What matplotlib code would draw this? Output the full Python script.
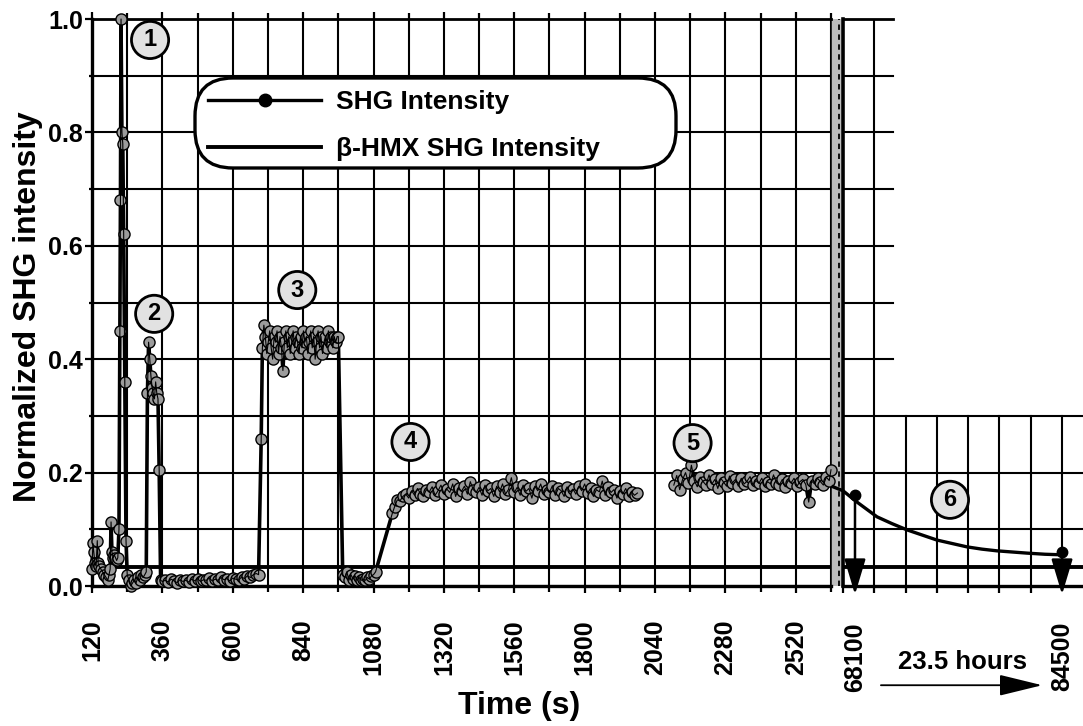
import numpy as np
import matplotlib
matplotlib.use("Agg")
import matplotlib.pyplot as plt
from matplotlib.patches import FancyBboxPatch, Polygon
from matplotlib.lines import Line2D
from matplotlib.ticker import FixedLocator, MultipleLocator

plt.rcParams['font.family'] = ['Liberation Sans', 'DejaVu Sans']
plt.rcParams['font.weight'] = 'bold'

# ---------------- data ----------------
t_early = [120, 123, 126, 130, 134, 138, 141, 144, 150, 156, 162, 168, 174, 178, 182, 185, 188, 192, 196, 200, 204, 208]
y_early = [0.030, 0.075, 0.060, 0.040, 0.035, 0.080, 0.040, 0.035, 0.030, 0.025, 0.020, 0.015, 0.010, 0.020, 0.030, 0.113, 0.060, 0.050, 0.055, 0.050, 0.045, 0.050]

t_peak1 = [212, 215, 217, 219, 222, 225, 228, 232, 236, 240]
y_peak1 = [0.10, 0.45, 0.68, 1.00, 0.80, 0.78, 0.62, 0.36, 0.08, 0.02]

t_low1 = [246, 252, 258, 264, 270, 276, 282, 288, 294, 300, 305]
y_low1 = [0.010, 0.000, 0.005, 0.010, 0.005, 0.015, 0.010, 0.020, 0.015, 0.020, 0.025]

t_peak2 = [309, 313, 317, 321, 325, 329, 333, 337, 341, 345, 349, 354]
y_peak2 = [0.34, 0.43, 0.40, 0.37, 0.35, 0.34, 0.33, 0.36, 0.34, 0.33, 0.205, 0.010]

t_flat = [360, 370, 380, 390, 400, 410, 420, 430, 440, 450,
          460, 470, 480, 490, 500, 510, 520, 530, 540, 550,
          560, 570, 580, 590, 600, 610, 620, 630, 640, 650,
          660, 670, 680]
y_flat = [0.008, 0.010, 0.007, 0.012, 0.009, 0.006, 0.011, 0.008, 0.010, 0.007,
          0.012, 0.009, 0.013, 0.008, 0.011, 0.010, 0.014, 0.009, 0.012, 0.010,
          0.015, 0.011, 0.013, 0.009, 0.014, 0.012, 0.010, 0.016, 0.013, 0.018,
          0.015, 0.020, 0.022]

t_peak3 = [688, 697,
           701, 706, 711, 716, 721, 726, 731, 736, 741, 746,
           751, 756, 761, 766, 771, 776, 781, 786, 791, 796,
           801, 806, 811, 816, 821, 826, 831, 836, 841, 846,
           851, 856, 861, 866, 871, 876, 881, 886, 891, 896,
           901, 906, 911, 916, 921, 926, 931, 936, 941, 946,
           951, 956, 960, 975]
y_peak3 = [0.02, 0.26,
           0.42, 0.46, 0.44, 0.41, 0.43, 0.45, 0.42, 0.40, 0.44, 0.43,
           0.45, 0.41, 0.44, 0.42, 0.38, 0.43, 0.45, 0.42, 0.44, 0.41,
           0.43, 0.45, 0.42, 0.44, 0.43, 0.41, 0.44, 0.42, 0.45, 0.43,
           0.44, 0.41, 0.43, 0.45, 0.42, 0.44, 0.40, 0.43, 0.45, 0.42,
           0.44, 0.41, 0.43, 0.44, 0.42, 0.45, 0.43, 0.44, 0.42, 0.44,
           0.43, 0.44, 0.44, 0.02]

t_low2 = [982, 989, 996, 1003, 1010, 1017, 1024, 1031, 1038, 1045, 1052, 1059, 1066, 1073, 1080, 1087]
y_low2 = [0.015, 0.025, 0.010, 0.020, 0.012, 0.018, 0.010, 0.015, 0.010, 0.012, 0.010, 0.015, 0.012, 0.018, 0.020, 0.025]

t_rise = [1144, 1152, 1161]
y_rise = [0.128, 0.140, 0.152]

t_plat4 = [1170, 1180, 1190, 1200, 1210, 1220, 1230, 1240, 1250, 1260,
           1270, 1280, 1290, 1300, 1310, 1320, 1330, 1340, 1350, 1360,
           1370, 1380, 1390, 1400, 1410, 1420, 1430, 1440, 1450, 1460,
           1470, 1480, 1490, 1500, 1510, 1520, 1530, 1540, 1550, 1560,
           1570, 1580, 1590, 1600, 1610, 1620, 1630, 1640, 1650, 1660,
           1670, 1680, 1690, 1700, 1710, 1720, 1730, 1740, 1750, 1760,
           1770, 1780, 1790, 1800, 1810, 1820, 1830, 1840, 1850, 1860,
           1870, 1880, 1890, 1900, 1910, 1920, 1930, 1940, 1950, 1960,
           1970, 1980]
y_plat4 = [0.150, 0.158, 0.162, 0.155, 0.168, 0.160, 0.172, 0.163, 0.158, 0.170,
           0.166, 0.175, 0.160, 0.168, 0.178, 0.163, 0.171, 0.165, 0.180, 0.158,
           0.172, 0.167, 0.176, 0.162, 0.184, 0.170, 0.165, 0.174, 0.160, 0.178,
           0.168, 0.172, 0.158, 0.176, 0.166, 0.180, 0.162, 0.170, 0.191, 0.165,
           0.174, 0.160, 0.178, 0.167, 0.172, 0.155, 0.176, 0.168, 0.180, 0.163,
           0.170, 0.165, 0.177, 0.160, 0.172, 0.168, 0.158, 0.175, 0.166, 0.171,
           0.162, 0.176, 0.168, 0.180, 0.164, 0.172, 0.158, 0.170, 0.166, 0.185,
           0.160, 0.174, 0.165, 0.170, 0.155, 0.168, 0.162, 0.172, 0.158, 0.166,
           0.160, 0.164]

t_plat5 = [2104, 2114, 2124, 2134, 2144, 2154, 2164, 2174, 2184, 2194,
           2204, 2214, 2224, 2234, 2244, 2254, 2264, 2274, 2284, 2294,
           2304, 2314, 2324, 2334, 2344, 2354, 2364, 2374, 2384, 2394,
           2404, 2414, 2424, 2434, 2444, 2454, 2464, 2474, 2484, 2494,
           2504, 2514, 2524, 2534, 2544, 2554, 2564, 2574, 2584, 2594,
           2604, 2614, 2624, 2634, 2640]
y_plat5 = [0.178, 0.195, 0.170, 0.188, 0.200, 0.182, 0.213, 0.186, 0.175, 0.192,
           0.184, 0.178, 0.196, 0.180, 0.188, 0.172, 0.190, 0.183, 0.176, 0.194,
           0.182, 0.188, 0.176, 0.190, 0.180, 0.185, 0.193, 0.178, 0.186, 0.181,
           0.190, 0.176, 0.184, 0.180, 0.196, 0.182, 0.178, 0.188, 0.175, 0.186,
           0.182, 0.190, 0.176, 0.184, 0.188, 0.179, 0.148, 0.185, 0.180, 0.190,
           0.184, 0.178, 0.192, 0.186, 0.205]

# long-time decay (after 23.5 h)
t_decay = [66358, 67150, 68259, 69843, 71031, 72219, 73407, 74595, 75783, 76971, 78159, 79347, 80535, 81723, 83148, 84500]
y_decay = [0.175, 0.168, 0.148, 0.122, 0.110, 0.099, 0.090, 0.081, 0.075, 0.069, 0.065, 0.062, 0.060, 0.058, 0.056, 0.055]
t_mark = [68100, 84500]
y_mark = [0.160, 0.060]

hmx_level = 0.033  # beta-HMX SHG intensity

x_ticks_left = [120, 360, 600, 840, 1080, 1320, 1560, 1800, 2040, 2280, 2520]
x_ticks_right = [68100, 84500]
y_ticks = [0.0, 0.2, 0.4, 0.6, 0.8, 1.0]
y_tick_labels = ['0.0', '0.2', '0.4', '0.6', '0.8', '1.0']

circle_labels = ['1', '2', '3', '4', '5']
circle_t = [318, 332, 820, 1206, 2168]
circle_y = [0.963, 0.480, 0.522, 0.254, 0.252]
circle6_t, circle6_y = 75624, 0.152

# ---------------- figure ----------------
W, H = 1083, 726
fig = plt.figure(figsize=(W / 100, H / 100), dpi=100)
ax1 = fig.add_axes([92 / W, 140 / H, 739 / W, 567 / H])
ax2 = fig.add_axes([843 / W, 140 / H, 240 / W, 567 / H])

GRID_LW = 1.5
TICK_FS = 18

# ---- left panel ----
ax1.set_xlim(120, 2640)
ax1.set_ylim(0, 1)
ax1.xaxis.set_major_locator(FixedLocator(x_ticks_left))
ax1.xaxis.set_minor_locator(MultipleLocator(120))
ax1.set_xticklabels([str(v) for v in x_ticks_left], rotation=90)
ax1.set_yticks(y_ticks)
ax1.set_yticklabels(y_tick_labels)
ax1.yaxis.set_minor_locator(MultipleLocator(0.1))
ax1.grid(True, which='both', color='black', lw=GRID_LW)
ax1.set_axisbelow(True)
ax1.tick_params(axis='x', which='major', length=5, width=1.6, pad=19, labelsize=TICK_FS, top=True)
ax1.tick_params(axis='x', which='minor', length=4, width=1.6, top=True)
ax1.tick_params(axis='y', which='major', length=5, width=1.6, pad=1.5, labelsize=TICK_FS)
ax1.tick_params(axis='y', which='minor', length=2, width=1.6)
ax1.spines['left'].set_linewidth(2.4)
ax1.spines['bottom'].set_linewidth(2.4)
ax1.spines['top'].set_linewidth(2.0)
ax1.spines['right'].set_linewidth(1.2)

seg1_t = t_early + t_peak1 + t_low1 + t_peak2 + t_flat + t_peak3 + t_low2 + t_rise + t_plat4
seg1_y = y_early + y_peak1 + y_low1 + y_peak2 + y_flat + y_peak3 + y_low2 + y_rise + y_plat4

ax1.axhline(hmx_level, color='black', lw=2.8, zorder=2.5)
for tt, yy in [(seg1_t, seg1_y), (t_plat5, y_plat5)]:
    ax1.plot(tt, yy, color='black', lw=2.6, zorder=3, clip_on=False)
    ax1.plot(tt, yy, ls='none', marker='o', ms=8, mfc='#9c9c9c', mec='black', mew=1.0,
             zorder=3.5, clip_on=False)
    ax1.plot(tt, yy, color='black', lw=0.8, zorder=3.6, clip_on=False)

for lab, ct, cy in zip(circle_labels, circle_t, circle_y):
    ax1.text(ct, cy, lab, ha='center', va='center', fontsize=17, fontweight='bold', zorder=7,
             bbox=dict(boxstyle='circle,pad=0.3', fc='#e2e2e2', ec='black', lw=2.0))

ax1.set_ylabel('Normalized SHG intensity', fontsize=23, fontweight='bold')
ax1.yaxis.set_label_coords(-0.066, 0.492)
ax1.set_xlabel('Time (s)', fontsize=23, fontweight='bold')
ax1.xaxis.set_label_coords(0.578, -0.185)

# legend with rounded frame
frame = FancyBboxPatch((1.95, 5.58), 4.81, 0.90, boxstyle='round,pad=0,rounding_size=0.38',
                       transform=fig.dpi_scale_trans, fc='white', ec='black', lw=2.4, zorder=5.5)
ax1.add_artist(frame)
h_shg = Line2D([], [], color='black', lw=2.4, marker='o', ms=9, mfc='black', mec='black')
h_hmx = Line2D([], [], color='black', lw=2.8)
leg = ax1.legend([h_shg, h_hmx], ['SHG Intensity', '\u03b2-HMX SHG Intensity'],
                 loc='upper left', bbox_to_anchor=(2.08, 6.36), bbox_transform=fig.dpi_scale_trans,
                 frameon=False, fontsize=19, handlelength=4.3, handletextpad=0.55,
                 labelspacing=0.88, borderpad=0, borderaxespad=0, numpoints=1)
leg.set_zorder(6)

# ---- right panel (after 23.5 hours) ----
ax2.set_xlim(67150, 86160)
ax2.set_ylim(0, 1)
grid_x = np.linspace(67150, 84500, 8)
ax2.xaxis.set_major_locator(FixedLocator(x_ticks_right))
ax2.set_xticklabels([str(v) for v in x_ticks_right], rotation=90)
ax2.xaxis.set_minor_locator(FixedLocator(grid_x))
ax2.tick_params(axis='x', which='major', length=0, pad=26, labelsize=TICK_FS)
ax2.tick_params(axis='x', which='minor', length=5, width=1.6)
ax2.set_yticks([])
ax2.spines['top'].set_visible(False)
ax2.spines['right'].set_visible(False)
ax2.spines['left'].set_linewidth(2.6)
ax2.spines['bottom'].set_linewidth(2.4)

for i, gx in enumerate(grid_x[1:]):
    ax2.axvline(gx, ymin=0, ymax=1.0 if i == 0 else 0.3, color='black', lw=GRID_LW, zorder=1)
for gy in [0.1, 0.2, 0.3]:
    ax2.axhline(gy, color='black', lw=GRID_LW, zorder=1)
for gy in [0.4, 0.5, 0.6, 0.7, 0.8, 0.9]:
    ax2.axhline(gy, xmin=0, xmax=0.208, color='black', lw=GRID_LW, zorder=1)
ax2.axhline(1.0, xmin=0, xmax=0.208, color='black', lw=2.0, zorder=1, clip_on=False)

ax2.axhline(hmx_level, color='black', lw=2.8, zorder=2.5)
ax2.plot(t_decay, y_decay, color='black', lw=2.4, zorder=4, clip_on=False)
ax2.plot(t_mark, y_mark, ls='none', marker='o', ms=7.5, color='black', zorder=5, clip_on=False)
for tm, ym in zip(t_mark, y_mark):
    ax2.annotate('', xy=(tm, -0.015), xytext=(tm, ym), annotation_clip=False,
                 arrowprops=dict(arrowstyle='-|>,head_length=1.1,head_width=0.33', mutation_scale=20,
                                 lw=1.8, color='black', shrinkA=0, shrinkB=0))
ax2.text(circle6_t, circle6_y, '6', ha='center', va='center', fontsize=17, fontweight='bold', zorder=7,
         bbox=dict(boxstyle='circle,pad=0.3', fc='#e2e2e2', ec='black', lw=2.0))

ax2.annotate('', xy=(0.83, -0.175), xytext=(0.158, -0.175), xycoords='axes fraction',
             textcoords='axes fraction', annotation_clip=False,
             arrowprops=dict(arrowstyle='-|>,head_length=1.35,head_width=0.33', mutation_scale=20,
                             lw=1.3, color='black', shrinkA=0, shrinkB=0))
ax2.text(0.496, -0.134, '23.5 hours', transform=ax2.transAxes, ha='center', va='center',
         fontsize=18.5, fontweight='bold', clip_on=False)

# axis break between the two panels
brk = Polygon([[8.32, 1.40], [8.32, 7.07], [8.41, 7.07], [8.41, 1.40]], closed=True,
              transform=fig.dpi_scale_trans, fc='#bdbdbd', ec='none', zorder=-1)
fig.add_artist(brk)
fig.add_artist(Line2D([8.385, 8.385], [1.40, 7.07], transform=fig.dpi_scale_trans, color='black',
                      lw=1.3, ls=(0, (3, 2.5)), zorder=-0.5))

fig.savefig('out.png', dpi=100, facecolor='white')
